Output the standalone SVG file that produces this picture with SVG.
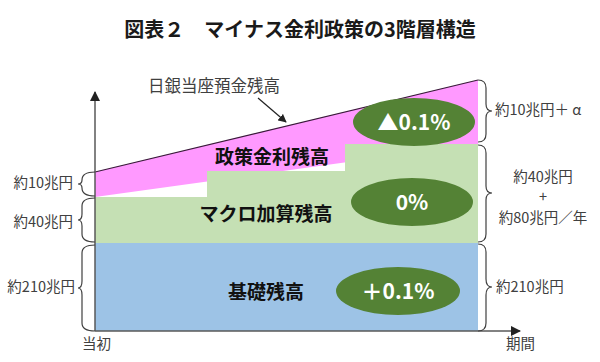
<svg xmlns="http://www.w3.org/2000/svg" width="600" height="362" viewBox="0 0 600 362">
<defs>
<style>
text{font-family:"Noto Sans CJK JP","Liberation Sans",sans-serif;fill:#404040}
.t{font-size:20px;font-weight:bold;fill:#1a1a1a}
.lab{font-size:14.5px}
.lab2{font-size:16.5px}
.big{font-size:19px;font-weight:bold;fill:#111}
.ov{font-size:21px;font-weight:bold;fill:#fff}
.br{fill:none;stroke:#404040;stroke-width:1.2}
.ax{stroke:#595959;stroke-width:1.5;fill:none}
.el{fill:#548235}
</style>
<marker id="ah" viewBox="0 0 10 10" refX="9" refY="5" markerWidth="7" markerHeight="7" orient="auto"><path d="M0,0L10,5L0,10z" fill="#222"/></marker>
</defs>
<rect width="600" height="362" fill="#fff"/>
<text class="t" x="300" y="37" text-anchor="middle">図表２　マイナス金利政策の3階層構造</text>
<g id="pink"><polygon points="95,172 478,80 478,144 95,197" fill="#ff99ff"/><line x1="95" y1="172" x2="478" y2="80" stroke="#3a1a3a" stroke-width="1.2"/></g>
<g id="green"><polygon points="95,197 207,197 207,171 345,171 345,144 478,144 478,243 95,243" fill="#c5e0b4"/></g>
<g id="blue"><rect x="95" y="243" width="383" height="88" fill="#9dc3e6"/></g>
<g id="labels-in">
<text class="big" x="272" y="164" text-anchor="middle">政策金利残高</text>
<text class="big" x="266" y="221" text-anchor="middle">マクロ加算残高</text>
<text class="big" x="266" y="299" text-anchor="middle">基礎残高</text>
</g>
<g id="e1"><ellipse class="el" cx="414" cy="122" rx="61" ry="24"/><text class="ov" x="414" y="129.5" text-anchor="middle">▲0.1%</text></g>
<g id="e2"><ellipse class="el" cx="412" cy="202" rx="61" ry="24"/><text class="ov" x="412" y="209.5" text-anchor="middle">0%</text></g>
<g id="e3"><ellipse class="el" cx="398" cy="291" rx="62" ry="24"/><text class="ov" x="398" y="298.5" text-anchor="middle">＋0.1%</text></g>
<g id="connectors">
<line class="ax" x1="95" y1="331" x2="95" y2="92" marker-end="url(#ah)"/>
<line class="ax" x1="95" y1="331" x2="520" y2="331" marker-end="url(#ah)"/>
<line x1="258" y1="98" x2="286" y2="122" stroke="#222" stroke-width="1.2" marker-end="url(#ah)"/>
<path class="br" d="M478,80 Q486,80 486,88 L486,104 Q486,111 492,111 Q486,111 486,118 L486,134 Q486,142 478,142"/>
<path class="br" d="M478,145 Q486,145 486,153 L486,186 Q486,193 492,193 Q486,193 486,200 L486,234 Q486,242 478,242"/>
<path class="br" d="M478,244 Q486,244 486,252 L486,279 Q486,287 492,287 Q486,287 486,295 L486,323 Q486,331 478,331"/>
<path class="br" d="M95,172 Q82,172 82,180 Q82,184 78,184 Q82,184 82,188 Q82,196 95,196"/>
<path class="br" d="M95,198 Q82,198 82,206 L82,214 Q82,220 78,220 Q82,220 82,226 L82,234 Q82,242 95,242"/>
<path class="br" d="M95,245 Q82,245 82,253 L82,281 Q82,288 78,288 Q82,288 82,295 L82,323 Q82,331 95,331"/>
</g>
<g id="labels-out">
<text class="lab2" x="148" y="92">日銀当座預金残高</text>
<text class="lab" x="495" y="115">約10兆円＋ α</text>
<text class="lab" x="543" y="182" text-anchor="middle">約40兆円</text>
<text class="lab" x="543" y="202" text-anchor="middle" font-size="12">+</text>
<text class="lab" x="543" y="223" text-anchor="middle">約80兆円／年</text>
<text class="lab" x="496" y="292">約210兆円</text>
<text class="lab" x="73" y="188" text-anchor="end">約10兆円</text>
<text class="lab" x="73" y="227" text-anchor="end">約40兆円</text>
<text class="lab" x="75" y="292" text-anchor="end">約210兆円</text>
<text class="lab" x="82" y="349">当初</text>
<text class="lab" x="506" y="349">期間</text>
</g>
</svg>
